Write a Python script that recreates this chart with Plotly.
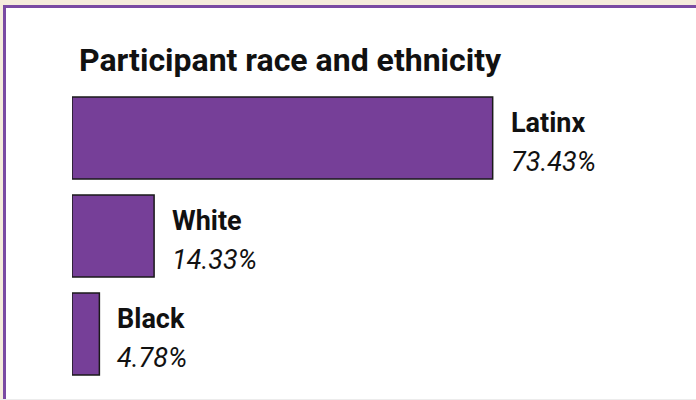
import plotly.graph_objects as go

# Share of participants by race / ethnicity (%)
groups = ["Latinx", "White", "Black"]
shares = [73.43, 14.33, 4.78]
title_text = "Participant race and ethnicity"

W, H = 696, 400
M_L, M_R, M_T, M_B = 72, 0, 89, 17
PLOT_W = W - M_L - M_R
PLOT_H = H - M_T - M_B
PX_PER_UNIT = 5.729

BAR_COLOR = "#763f98"
FRAME_PURPLE = "#7a4aa3"
FRAME_BEIGE = "#f5ecdc"
FONT = "Roboto"


def px_x(px):
    return (px - M_L) / PLOT_W


def px_y(py):
    return (H - M_B - py) / PLOT_H


fig = go.Figure(
    go.Bar(
        x=shares,
        y=groups,
        orientation="h",
        marker=dict(color=BAR_COLOR, line=dict(color="#1a1a1a", width=1.5)),
        hoverinfo="skip",
    )
)

# Category name and percentage to the right of each bar
annotations = []
for g, v in zip(groups, shares):
    annotations.append(dict(
        x=v, y=g, xref="x", yref="y", xanchor="left", yanchor="middle",
        xshift=16, yshift=15, showarrow=False,
        text=f"<b>{g}</b>",
        font=dict(family=FONT, size=27, color="#111111"),
    ))
    annotations.append(dict(
        x=v, y=g, xref="x", yref="y", xanchor="left", yanchor="middle",
        xshift=16, yshift=-24, showarrow=False,
        text=f"<i>{v:.2f}%</i>",
        font=dict(family=FONT, size=27, color="#111111"),
    ))

# Card frame: beige outer edge and purple rule along top and left
shapes = [
    dict(type="rect", xref="paper", yref="paper", x0=px_x(0), x1=px_x(3),
         y0=px_y(H), y1=px_y(0), fillcolor=FRAME_BEIGE, line_width=0),
    dict(type="rect", xref="paper", yref="paper", x0=px_x(0), x1=px_x(W),
         y0=px_y(5), y1=px_y(0), fillcolor=FRAME_BEIGE, line_width=0),
    dict(type="rect", xref="paper", yref="paper", x0=px_x(3), x1=px_x(6),
         y0=px_y(H), y1=px_y(5), fillcolor=FRAME_PURPLE, line_width=0),
    dict(type="rect", xref="paper", yref="paper", x0=px_x(3), x1=px_x(W),
         y0=px_y(8), y1=px_y(5), fillcolor=FRAME_PURPLE, line_width=0),
    dict(type="rect", xref="paper", yref="paper", x0=px_x(0), x1=px_x(W),
         y0=px_y(H), y1=px_y(H - 1), fillcolor="#ececec", line_width=0),
]

fig.update_layout(
    width=W, height=H,
    margin=dict(l=M_L, r=M_R, t=M_T, b=M_B, pad=0),
    paper_bgcolor="white", plot_bgcolor="white",
    showlegend=False,
    bargap=0.163,
    title=dict(
        text=f"<b>{title_text}</b>",
        font=dict(family=FONT, size=32, color="#111111"),
        xref="paper", x=px_x(79), xanchor="left",
        yref="container", y=1 - 60 / H, yanchor="middle",
    ),
    xaxis=dict(range=[0, PLOT_W / PX_PER_UNIT], visible=False, fixedrange=True),
    yaxis=dict(categoryorder="array", categoryarray=groups,
               range=[len(groups) - 0.5, -0.5], visible=False, fixedrange=True),
    annotations=annotations,
    shapes=shapes,
)

fig.write_html("out.html")
